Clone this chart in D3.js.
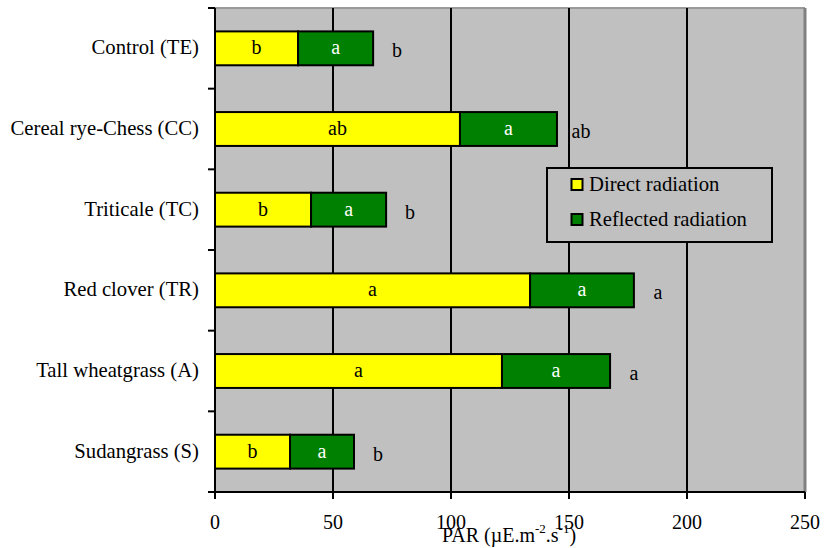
<!DOCTYPE html>
<html><head><meta charset="utf-8">
<script src="https://cdn.jsdelivr.net/npm/d3@7"></script>
<style>
body{margin:0;background:#fff;}
</style></head>
<body><svg id="c" width="825" height="548" font-family="'Liberation Serif', 'DejaVu Serif', serif"></svg>
<script>
const categories = ["Control (TE)","Cereal rye-Chess (CC)","Triticale (TC)","Red clover (TR)","Tall wheatgrass (A)","Sudangrass (S)"];
const direct = [35.2, 103.8, 40.7, 133.5, 121.6, 31.8];
const reflected = [31.8, 41.1, 31.8, 44.0, 45.8, 27.1];
const directLetters = ["b","ab","b","a","a","b"];
const reflectedLetters = ["a","a","a","a","a","a"];
const totalLetters = ["b","ab","b","a","a","b"];
const xTicks = [0,50,100,150,200,250];
const seriesNames = ["Direct radiation","Reflected radiation"];
const colors = ["#FFFF00","#008000"];

const svg = d3.select("#c");
const L=215, R=805, T=8, B=492;
const x = d3.scaleLinear().domain([0,250]).range([L,R]);
const y = d3.scaleBand().domain(categories).range([T,B]).paddingInner(0.58).paddingOuter(0.29);

// plot background
svg.append("rect").attr("x",L).attr("y",T).attr("width",R-L).attr("height",B-T).attr("fill","#C0C0C0");
svg.append("line").attr("x1",L).attr("x2",R).attr("y1",T).attr("y2",T).attr("stroke","#999").attr("stroke-width",2);
svg.append("line").attr("x1",R).attr("x2",R).attr("y1",T).attr("y2",B).attr("stroke","#808080").attr("stroke-width",3);

// gridlines
svg.append("g").selectAll("line").data(xTicks.filter(d=>d>0&&d<250)).join("line")
  .attr("x1",d=>x(d)).attr("x2",d=>x(d)).attr("y1",T).attr("y2",B)
  .attr("stroke","#000").attr("stroke-width",2);

// bars
const rows = categories.map((c,i)=>({c, d:direct[i], r:reflected[i], dl:directLetters[i], rl:reflectedLetters[i], tl:totalLetters[i]}));
const g = svg.append("g");
g.selectAll("rect.d").data(rows).join("rect").attr("class","d")
  .attr("x",x(0)).attr("y",d=>y(d.c)).attr("width",d=>x(d.d)-x(0)).attr("height",y.bandwidth())
  .attr("fill",colors[0]).attr("stroke","#000").attr("stroke-width",2);
g.selectAll("rect.r").data(rows).join("rect").attr("class","r")
  .attr("x",d=>x(d.d)).attr("y",d=>y(d.c)).attr("width",d=>x(d.d+d.r)-x(d.d)).attr("height",y.bandwidth())
  .attr("fill",colors[1]).attr("stroke","#000").attr("stroke-width",2);
g.selectAll("text.dl").data(rows).join("text")
  .attr("x",d=>(x(0)+x(d.d))/2).attr("y",d=>y(d.c)+y.bandwidth()/2+6)
  .attr("text-anchor","middle").attr("font-size",20).attr("fill","#000").text(d=>d.dl);
g.selectAll("text.rl").data(rows).join("text")
  .attr("x",d=>(x(d.d)+x(d.d+d.r))/2).attr("y",d=>y(d.c)+y.bandwidth()/2+6)
  .attr("text-anchor","middle").attr("font-size",20).attr("fill","#fff").text(d=>d.rl);
g.selectAll("text.tl").data(rows).join("text")
  .attr("x",d=>x(d.d+d.r)+24).attr("y",d=>y(d.c)+y.bandwidth()/2+9)
  .attr("text-anchor","middle").attr("font-size",20).attr("fill","#000").text(d=>d.tl);

// axes
svg.append("line").attr("x1",L).attr("x2",L).attr("y1",T).attr("y2",B+1).attr("stroke","#000").attr("stroke-width",2);
svg.append("line").attr("x1",208).attr("x2",R).attr("y1",B).attr("y2",B).attr("stroke","#000").attr("stroke-width",2);
const bounds = d3.range(categories.length+1).map(i=>T+y.step()*i);
svg.append("g").selectAll("line").data(bounds).join("line")
  .attr("x1",208).attr("x2",L).attr("y1",d=>d).attr("y2",d=>d).attr("stroke","#000").attr("stroke-width",2);
svg.append("g").selectAll("line").data(xTicks).join("line")
  .attr("x1",d=>x(d)).attr("x2",d=>x(d)).attr("y1",B).attr("y2",B+7).attr("stroke","#000").attr("stroke-width",2);
svg.append("g").selectAll("text").data(xTicks).join("text")
  .attr("x",d=>x(d)).attr("y",529).attr("text-anchor","middle").attr("font-size",20).text(d=>d);
svg.append("g").selectAll("text").data(categories).join("text")
  .attr("x",199).attr("y",d=>y(d)+y.bandwidth()/2+6).attr("text-anchor","end").attr("font-size",20.7).text(d=>d);

// axis title
const t = svg.append("text").attr("x",509).attr("y",542).attr("text-anchor","middle").attr("font-size",20);
t.append("tspan").text("PAR (\u00B5E.m");
t.append("tspan").attr("dy",-9).attr("font-size",13).text("-2");
t.append("tspan").attr("dy",9).text(".s");
t.append("tspan").attr("dy",-9).attr("font-size",13).text("-1");
t.append("tspan").attr("dy",9).text(")");

// legend
const lg = svg.append("g");
lg.append("rect").attr("x",547).attr("y",168).attr("width",225).attr("height",74).attr("fill","#C0C0C0").attr("stroke","#000").attr("stroke-width",2);
seriesNames.forEach((n,i)=>{
  lg.append("rect").attr("x",571.5).attr("y",179+i*35).attr("width",11).attr("height",11).attr("fill",colors[i]).attr("stroke","#000").attr("stroke-width",2);
  lg.append("text").attr("x",589).attr("y",191+i*35).attr("font-size",20.7).text(n);
});
</script></body></html>
